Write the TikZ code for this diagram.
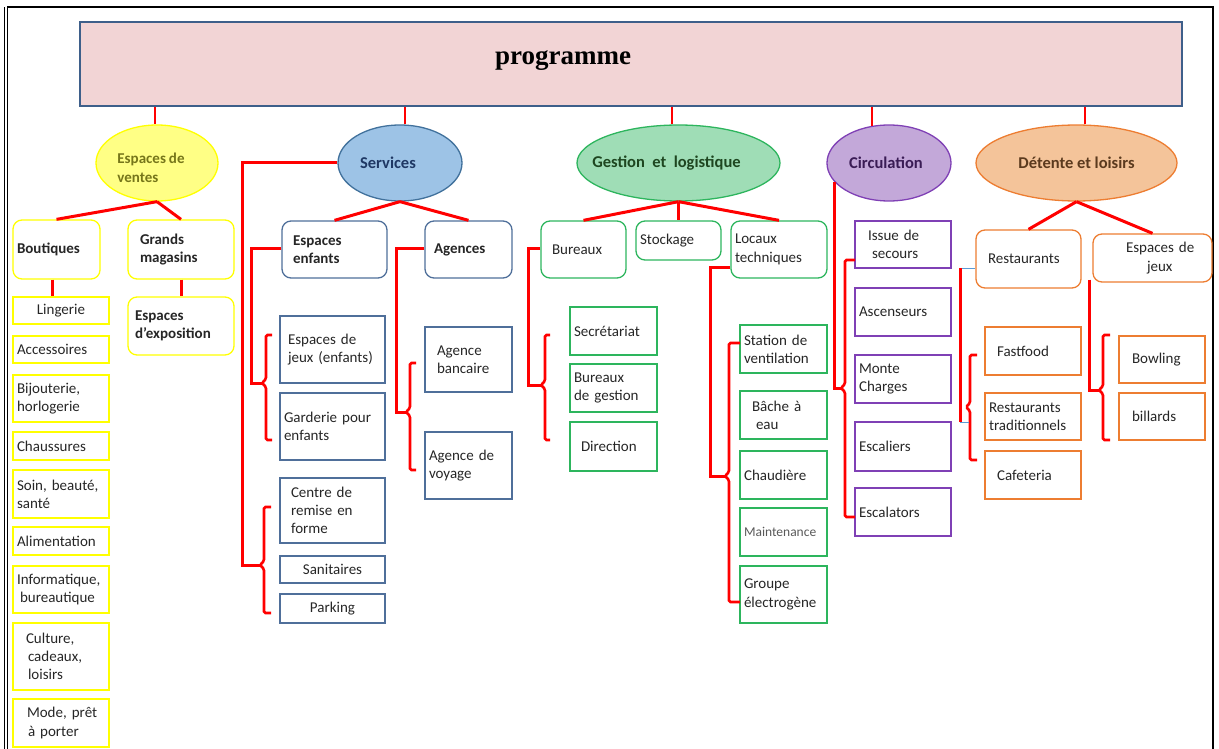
\documentclass[tikz,border=0pt]{standalone}
\usepackage{fontspec}
\setmainfont{Carlito}
\newfontfamily\tnr{Liberation Serif}
\usetikzlibrary{shapes.geometric}
\definecolor{ybd}{HTML}{FFFF00}
\definecolor{yfill}{HTML}{FFFF85}
\definecolor{ytxt}{HTML}{76761A}
\definecolor{sfill}{HTML}{9DC3E6}
\definecolor{sbd}{HTML}{41719C}
\definecolor{stxt}{HTML}{1F3864}
\definecolor{sbox}{HTML}{4F6F9A}
\definecolor{gfill}{HTML}{9FDDB6}
\definecolor{gbd}{HTML}{2DB55D}
\definecolor{gtxt}{HTML}{1E4620}
\definecolor{cfill}{HTML}{C3A8D9}
\definecolor{cbd}{HTML}{7F40B5}
\definecolor{ctxt}{HTML}{3A1C55}
\definecolor{dfill}{HTML}{F4C49A}
\definecolor{dbd}{HTML}{ED7D31}
\definecolor{dtxt}{HTML}{5B3A1E}
\definecolor{pfill}{HTML}{F2D4D5}
\definecolor{pbd}{HTML}{3E5F8A}
\definecolor{boxtxt}{HTML}{262626}
\definecolor{lnk}{HTML}{FF0000}
\definecolor{thinblue}{HTML}{5B9BD5}
\frenchspacing
\newcommand\bodyf{\fontsize{15}{18.3}\selectfont\spaceskip=0.2em\relax}
\newcommand\ellf{\fontsize{16.5}{19}\selectfont}
\newcommand\bx[7][]{%
  \pgfmathsetmacro\bxw{#5-#3}%
  \pgfmathsetmacro\bxh{#6-#4}%
  \pgfmathsetmacro\bxt{#5-#3-8}%
  \node[box,#1,minimum width=\bxw pt,minimum height=\bxh pt,text width=\bxt pt] (#2) at ({(#3+#5)/2},{(#4+#6)/2}) {#7};%
}
\newcommand\mybrk[6]{%
  \draw[brk] (#2+#6,#3) -- (#2,#3) -- (#2,#4-4) -- (#2-4,#4) -- (#2,#4+4) -- (#2,#5) -- (#2+#6,#5);%
  \coordinate (#1) at (#2-4,#4);%
}
\tikzset{
  box/.style={draw, rectangle, line width=1.3pt, inner xsep=4pt, inner ysep=0pt, align=left, text=boxtxt, font=\bodyf},
  rbox/.style={rounded corners=9pt},
  hd/.style={font=\bodyf\bfseries},
  yb/.style={draw=ybd},
  sb/.style={draw=sbox},
  gb/.style={draw=gbd},
  cb/.style={draw=cbd},
  db/.style={draw=dbd},
  ell/.style={ellipse, draw, line width=1.3pt, inner sep=0pt, minimum width=124pt, minimum height=76pt, font=\ellf\bfseries},
  link/.style={draw=lnk, line width=3pt},
  mainlink/.style={draw=lnk, line width=2pt},
  brk/.style={draw=lnk, line width=2.6pt, rounded corners=1.5pt},
  thinb/.style={draw=thinblue, line width=1pt},
}
\begin{document}
\begin{tikzpicture}[x=1pt,y=-1pt]
\useasboundingbox (0,0) rectangle (1219,749);
% frame
\draw[line width=1.1pt] (4.5,749) -- (4.5,7);
\draw[line width=1.8pt] (7.5,749) -- (7.5,7) -- (1213,7) -- (1213,749);
% programme
\node[draw=pbd, fill=pfill, line width=2.2pt, minimum width=1102pt, minimum height=84pt, inner sep=0pt] (prog) at (631,64) {};
\node[font=\tnr\bfseries\fontsize{27}{31}\selectfont, inner sep=0pt] (progt) at (563,61) {programme};
% main ellipses
\node[ell, fill=yfill, draw=ybd, text=ytxt, minimum width=122pt, font=\bodyf\bfseries] (ev) at (157,163) {\makebox[0pt]{\raisebox{-10pt}[0pt][0pt]{\begin{tabular}{@{}l@{}}Espaces de\\ventes\end{tabular}}\hspace*{12pt}}};
\node[ell, fill=sfill, draw=sbd, text=stxt] (serv) at (400,163) {\makebox[0pt]{Services\hspace*{24pt}}};
\node[ell, fill=gfill, draw=gbd, text=gtxt, minimum width=203pt] (gest) at (678.5,163) {\makebox[0pt]{Gestion\ \ et\ \ logistique\hspace*{24pt}}};
\node[ell, fill=cfill, draw=cbd, text=ctxt] (circ) at (889,163) {\makebox[0pt]{Circulation\hspace*{6pt}}};
\node[ell, fill=dfill, draw=dbd, text=dtxt, minimum width=201pt] (det) at (1076.5,163) {D\'etente et loisirs};
% espaces de ventes
\bx[yb,rbox,hd]{bout}{13}{220}{100}{279}{Boutiques}
\bx[yb,rbox,hd]{gm}{128}{220}{234}{279}{\hspace*{8pt}Grands\\\hspace*{8pt}magasins}
\bx[yb,rbox,hd]{expo}{128}{297}{234}{355}{\hspace*{3pt}Espaces\\\hspace*{3pt}d’exposition}
\bx[yb,align=center]{ling}{13}{297}{109}{324}{Lingerie}
\bx[yb]{acc}{13}{336}{109}{363}{Accessoires}
\bx[yb]{bij}{13}{375}{109}{422}{Bijouterie,\\horlogerie}
\bx[yb]{chau}{13}{432}{109}{460}{Chaussures}
\bx[yb]{soin}{13}{470}{109}{518}{Soin, beaut\'e,\\sant\'e}
\bx[yb]{alim}{13}{527}{109}{555}{Alimentation}
\bx[yb]{info}{13}{566}{109}{613}{Informatique,\\\hspace*{3pt}bureautique}
\bx[yb]{cult}{13}{623}{109}{690}{\hspace*{9pt}Culture,\\\hspace*{11pt}cadeaux,\\\hspace*{11pt}loisirs}
\bx[yb]{mode}{13}{699}{109}{747}{\hspace*{10pt}Mode, pr\^et\\\hspace*{11pt}\`a porter}
% services
\bx[sb,rbox,hd]{ee}{282}{221}{387}{278}{\hspace*{7pt}Espaces\\\hspace*{7pt}enfants}
\bx[sb,rbox,hd]{ag}{425}{221}{512}{278}{\hspace*{5pt}Agences}
\bx[sb]{ejx}{280}{316}{385}{383}{\hspace*{4pt}Espaces de\\\hspace*{4pt}jeux (enfants)}
\bx[sb]{gard}{280}{393}{385}{460}{Garderie pour\\enfants}
\bx[sb]{crf}{280}{478}{385}{543}{\hspace*{7pt}Centre de\\\hspace*{7pt}remise en\\\hspace*{7pt}forme}
\bx[sb,align=center]{san}{280}{556}{385}{583}{Sanitaires}
\bx[sb,align=center]{park}{280}{594}{385}{623}{Parking}
\bx[sb]{abq}{425}{327}{512}{392}{\hspace*{8pt}Agence\\\hspace*{8pt}bancaire}
\bx[sb]{avy}{425}{432}{512}{499}{Agence de\\voyage}
% gestion
\bx[gb,rbox]{bu}{541}{221}{626}{278}{\hspace*{7pt}Bureaux}
\bx[gb,rbox]{st}{636}{221}{721}{260}{Stockage}
\bx[gb,rbox]{lt}{731}{221}{827}{278}{Locaux\\techniques}
\bx[gb]{sec}{570}{307}{657}{355}{Secr\'etariat}
\bx[gb]{bdg}{570}{364}{657}{412}{Bureaux\\de gestion}
\bx[gb]{dir}{570}{422}{657}{471}{\hspace*{7pt}Direction}
\bx[gb]{stv}{740}{325}{827}{373}{Station de\\ventilation}
\bx[gb]{bac}{740}{391}{827}{439}{\hspace*{8pt}B\^ache \`a\\\hspace*{12pt}eau}
\bx[gb]{chd}{740}{451}{827}{499}{Chaudi\`ere}
\bx[gb,text=black!65,font=\fontsize{13.5}{16}\selectfont]{mnt}{740}{508}{827}{556}{Maintenance}
\bx[gb]{geg}{740}{566}{827}{623}{Groupe\\\'electrog\`ene}
% circulation
\bx[cb]{iss}{855}{221}{951}{268}{\hspace*{9pt}Issue de\\\hspace*{13pt}secours}
\bx[cb]{asc}{855}{288}{951}{336}{Ascenseurs}
\bx[cb]{mch}{855}{355}{951}{403}{Monte\\Charges}
\bx[cb]{esc}{855}{422}{951}{471}{Escaliers}
\bx[cb]{esl}{855}{488}{951}{536}{Escalators}
% detente
\bx[db,rbox]{re}{976}{230}{1081}{288}{\hspace*{8pt}Restaurants}
\bx[db,rbox]{ej}{1093}{234}{1212}{282}{\hspace*{29pt}Espaces de\\\hspace*{50pt}jeux}
\bx[db]{ff}{985}{327}{1081}{375}{\hspace*{8pt}Fastfood}
\bx[db]{rt}{985}{393}{1081}{440}{Restaurants\\traditionnels}
\bx[db]{caf}{985}{451}{1081}{499}{\hspace*{8pt}Cafeteria}
\bx[db]{bow}{1119}{336}{1205}{383}{\hspace*{9pt}Bowling}
\bx[db]{bil}{1119}{393}{1205}{440}{\hspace*{9pt}billards}
% brackets
\mybrk{nSV}{264}{507}{565}{613}{7}
\mybrk{nEE}{266}{335}{383}{440}{6}
\mybrk{nAG}{410}{363}{412}{470}{6}
\mybrk{nBU}{545}{335}{385}{440}{5}
\mybrk{nLT}{729}{343}{476}{602}{11}
\mybrk{nCI}{845}{260}{388}{517}{10}
\mybrk{nRE}{970}{355}{407}{460}{7}
\mybrk{nEJ}{1103}{335}{390}{440}{7}
% programme links
\coordinate (k1) at (155,0);
\coordinate (k2) at (405,0);
\coordinate (k3) at (672,0);
\coordinate (k4) at (872,0);
\coordinate (k5) at (1085,0);
\draw[mainlink] (prog.south -| k1) -- (ev.north -| k1);
\draw[mainlink] (prog.south -| k2) -- (serv.north -| k2);
\draw[mainlink] (prog.south -| k3) -- (gest.north -| k3);
\draw[mainlink] (prog.south -| k4) -- ([yshift=-1.5pt]circ.north -| k4);
\draw[mainlink] (prog.south -| k5) -- (det.north -| k5);
% level links
\draw[link] (ev.south) -- (bout.north);
\draw[link] (ev.south) -- (gm.north);
\draw[link] ([xshift=-4pt]bout.south) -- ([xshift=-4pt]bout.south |- ling.north);
\draw[link] (gm.south) -- (expo.north);
\draw[link] (serv.south) -- (ee.north);
\draw[link] (serv.south) -- (ag.north);
\draw[link] (serv.west) -- ++(-95,0) |- (nSV);
\draw[link] ([yshift=1.5pt]ee.west) -- ++(-30,0) |- (nEE);
\draw[link] ([yshift=1.5pt]ag.west) -- ++(-28,0) |- (nAG);
\draw[link] (gest.south) -- (bu.north);
\draw[link] (gest.south) -- (st.north);
\draw[link] (gest.south) -- (lt.north);
\draw[link] ([yshift=1.5pt]bu.west) -- ++(-12,0) |- (nBU);
\draw[link] ([yshift=-18pt]lt.west) -- ++(-20,0) |- (nLT);
\draw[link] (circ.199) |- (nCI);
\draw[link] (det.south) -- (re.north);
\draw[link] (det.south) -- (ej.north);
\draw[thinb] ([yshift=-9pt]re.west) -- ++(-15,0) coordinate (rA);
\draw[link] (rA) -- ++(0,154) coordinate (rB);
\draw[thinb] (rB) -- ++(9,0);
\draw[link] ([xshift=-3pt,yshift=3pt]ej.south west) |- (nEJ);
\end{tikzpicture}
\end{document}
